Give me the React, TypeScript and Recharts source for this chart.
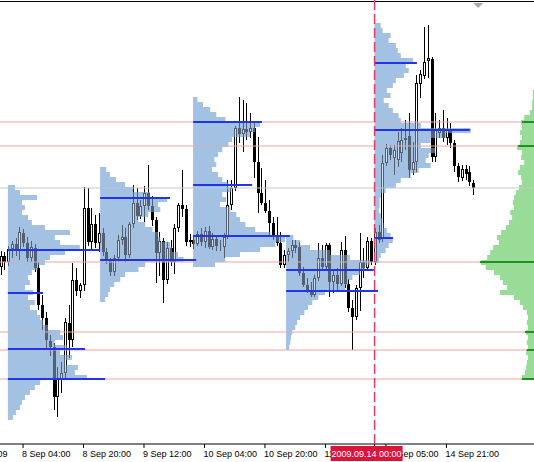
import {
  Bar,
  ComposedChart,
  ReferenceArea,
  ReferenceDot,
  ReferenceLine,
  XAxis,
  YAxis,
} from "recharts";

// Hourly EURUSD-style candles, one per bar index (0 = first visible bar).
const candleOpen = [
  1.4383, 1.4394, 1.4388, 1.4401, 1.4406, 1.4399, 1.4417, 1.4407, 1.4392, 1.4402,
  1.4382, 1.4345, 1.4332, 1.4309, 1.4303, 1.4253, 1.4271, 1.4277, 1.4327, 1.431,
  1.437, 1.4359, 1.4365, 1.4442, 1.4408, 1.4426, 1.4407, 1.4417, 1.4398, 1.4389,
  1.4378, 1.4392, 1.441, 1.4413, 1.4395, 1.4426, 1.4447, 1.4434, 1.4444, 1.4457,
  1.4444, 1.443, 1.4397, 1.4409, 1.437, 1.4402, 1.4388, 1.4422, 1.4445, 1.4441,
  1.4408, 1.441, 1.4406, 1.4416, 1.4408, 1.4419, 1.4403, 1.4411, 1.4404, 1.4403,
  1.4413, 1.4445, 1.4462, 1.4522, 1.4516, 1.4521, 1.4518, 1.4522, 1.4488, 1.4457,
  1.4447, 1.4439, 1.4427, 1.4413, 1.4407, 1.4385, 1.4395, 1.4399, 1.4405, 1.4403,
  1.4377, 1.4365, 1.4359, 1.4355, 1.4372, 1.4392, 1.4383, 1.4405, 1.4368, 1.4375,
  1.4366, 1.44, 1.4366, 1.4342, 1.4333, 1.4362, 1.4388, 1.4382, 1.4409, 1.4388,
  1.4418, 1.4411, 1.4487, 1.4502, 1.4492, 1.449, 1.4497, 1.451, 1.4514, 1.448,
  1.4488, 1.4566, 1.4574, 1.4589, 1.4591, 1.4493, 1.4517, 1.4522, 1.4512, 1.452,
  1.4507, 1.4484, 1.4472, 1.4481, 1.4478, 1.4467,
];
const candleHigh = [
  1.4399, 1.4398, 1.4404, 1.4409, 1.4412, 1.4423, 1.4421, 1.4413, 1.4409, 1.4406,
  1.4388, 1.4355, 1.4338, 1.4315, 1.4307, 1.4283, 1.4288, 1.4332, 1.4345, 1.4387,
  1.4382, 1.4367, 1.4463, 1.4462, 1.4442, 1.4435, 1.4437, 1.4422, 1.4402, 1.4392,
  1.4395, 1.4415, 1.4425, 1.4422, 1.4428, 1.4465, 1.4462, 1.445, 1.4464, 1.4485,
  1.4454, 1.4433, 1.4418, 1.4412, 1.4408, 1.441, 1.4426, 1.4447, 1.448, 1.4445,
  1.4416, 1.4414, 1.4419, 1.4422, 1.4423, 1.4424, 1.4417, 1.4414, 1.441, 1.4417,
  1.447, 1.447, 1.4524, 1.4553, 1.455, 1.4547, 1.4537, 1.4527, 1.4513, 1.4482,
  1.447, 1.445, 1.4433, 1.4433, 1.4418, 1.44, 1.4402, 1.441, 1.441, 1.4408,
  1.4383, 1.4372, 1.4368, 1.4375, 1.4407, 1.4405, 1.4407, 1.4407, 1.438, 1.4382,
  1.4408, 1.4414, 1.4371, 1.435, 1.4365, 1.4417, 1.4402, 1.4413, 1.4412, 1.4422,
  1.4425, 1.4495, 1.4506, 1.4505, 1.4505, 1.4518, 1.4522, 1.453, 1.4537, 1.4508,
  1.4575, 1.458, 1.4623, 1.4625, 1.4593, 1.4537, 1.453, 1.454, 1.4532, 1.4527,
  1.451, 1.4487, 1.4485, 1.4485, 1.4484, 1.447,
];
const candleLow = [
  1.4375, 1.438, 1.4384, 1.4392, 1.4394, 1.439, 1.4403, 1.4388, 1.4388, 1.4378,
  1.434, 1.432, 1.4302, 1.4294, 1.424, 1.4233, 1.4257, 1.427, 1.4292, 1.4303,
  1.4354, 1.4352, 1.4359, 1.4404, 1.44, 1.4402, 1.4398, 1.4394, 1.4386, 1.4374,
  1.4374, 1.4388, 1.4405, 1.4388, 1.4392, 1.4422, 1.443, 1.4431, 1.4428, 1.444,
  1.4424, 1.4367, 1.4374, 1.4347, 1.4366, 1.4384, 1.4376, 1.4418, 1.4433, 1.4404,
  1.4403, 1.4401, 1.4404, 1.4404, 1.4402, 1.4401, 1.44, 1.4399, 1.4399, 1.4392,
  1.4411, 1.444, 1.4459, 1.4507, 1.4498, 1.451, 1.4512, 1.4472, 1.4437, 1.4445,
  1.4437, 1.4413, 1.441, 1.4404, 1.4382, 1.4382, 1.4388, 1.4392, 1.4397, 1.4374,
  1.4363, 1.4357, 1.4353, 1.4353, 1.4369, 1.4379, 1.438, 1.4353, 1.4357, 1.4358,
  1.4364, 1.4362, 1.4338, 1.43, 1.433, 1.4339, 1.4372, 1.4379, 1.4385, 1.4385,
  1.4407, 1.4408, 1.4484, 1.449, 1.4475, 1.4483, 1.4488, 1.45, 1.4472, 1.4475,
  1.4478, 1.4552, 1.4571, 1.4572, 1.4488, 1.4488, 1.4512, 1.4508, 1.4505, 1.4502,
  1.4478, 1.4468, 1.4469, 1.447, 1.4464, 1.4455,
];
const candleClose = [
  1.4394, 1.4388, 1.4401, 1.4406, 1.4399, 1.4418, 1.4407, 1.4392, 1.4403, 1.4382,
  1.4345, 1.4332, 1.431, 1.4303, 1.4253, 1.4272, 1.4277, 1.4328, 1.431, 1.437,
  1.4359, 1.4365, 1.4442, 1.4408, 1.4426, 1.4407, 1.4417, 1.4398, 1.4389, 1.4378,
  1.4392, 1.441, 1.4413, 1.4395, 1.4426, 1.4447, 1.4434, 1.4444, 1.4457, 1.4444,
  1.443, 1.4397, 1.4409, 1.437, 1.4402, 1.4388, 1.4422, 1.4445, 1.4441, 1.4408,
  1.441, 1.4406, 1.4416, 1.4408, 1.4419, 1.4403, 1.4411, 1.4404, 1.4403, 1.4413,
  1.4445, 1.4462, 1.4522, 1.4516, 1.4521, 1.4518, 1.4522, 1.4488, 1.4457, 1.4447,
  1.4439, 1.4427, 1.4413, 1.4407, 1.4385, 1.4395, 1.4399, 1.4405, 1.4402, 1.4377,
  1.4365, 1.4359, 1.4355, 1.4372, 1.4392, 1.4383, 1.4405, 1.4368, 1.4375, 1.4366,
  1.44, 1.4366, 1.4342, 1.4333, 1.4362, 1.4388, 1.4382, 1.4409, 1.4388, 1.4418,
  1.441, 1.4487, 1.4502, 1.4495, 1.45, 1.4509, 1.451, 1.4512, 1.448, 1.4488,
  1.4567, 1.4576, 1.4588, 1.4592, 1.4493, 1.452, 1.4522, 1.4512, 1.452, 1.4507,
  1.4484, 1.4473, 1.4481, 1.4476, 1.4468, 1.4462,
];

// Daily market profiles (row height 5 pips, lengths in bars, from session start)
const PROFILE_ROW = 0.0005;
const profileStart = [1.7, 26.1, 50.7, 75.3, 98.7];
const profileTop = [1.4465, 1.4483, 1.4553, 1.4415, 1.4627];
const profile1 = [
  1.9, 3.2, 7.7, 3.7, 4.5, 3.7, 5.3, 6.3, 9.8, 16.4, 12.4, 13.8, 19, 15.1, 11.1, 9.8,
  7.9, 6.3, 5.3, 5.8, 4.5, 6.6, 5.3, 7.1, 5.8, 7.7, 8.5, 9.3, 10.6, 13.8, 14.6, 12.4,
  15.6, 13.8, 16.9, 15.1, 18.5, 17.7, 20.9, 8.5, 7.1, 5.8, 4.5, 3.7, 3.2, 2.1, 1.3,
];
const profile2 = [
  1.6, 2.6, 4.2, 6.6, 8.7, 13.2, 17.7, 15.3, 15.9, 12.7, 10.1, 11.9, 13.8, 15.3, 15.9,
  18.5, 19, 20.6, 22, 11.9, 10.1, 6.6, 5.3, 3.7, 2.6, 2.1, 1.3,
];
const profile3 = [
  1.1, 2.6, 4.5, 6.1, 8.5, 17.7, 16.4, 15.1, 10.3, 9.3, 7.7, 6.6, 5.6, 6.1, 5, 6.6,
  7.7, 9.3, 10.3, 7.7, 8.7, 7.1, 9.8, 11.4, 12.4, 13.8, 16.4, 20.4, 24.3, 21.7, 17.7,
  12.4, 8.5, 5.8,
];
const profile4 = [
  1.9, 3.7, 6.3, 11.6, 16.9, 22.2, 20.9, 19.6, 17.5, 16.4, 15.6, 10.3, 8.5, 6.9, 5.8,
  4.8, 3.7, 2.9, 2.4, 1.6, 1.3, 1.1, 0.8,
];
const profile5 = [
  1.6, 2.1, 4.2, 3.7, 5.6, 6.1, 6.9, 10.1, 8.2, 9, 7.7, 5.6, 4.8, 3.2, 4.2, 2.4, 3.7,
  4.8, 6.3, 6.9, 12.2, 25.4, 18.8, 14.8, 12.2, 16.1, 14.3, 13.5, 14.8, 11.6, 9.5, 6.9,
  5.6, 2.9, 1.6, 1.3, 1.3, 1.1, 1.6, 2.1, 2.4, 3.2, 4.2, 4.8, 3.7, 2.9, 1.6, 1.1,
];
const profileRows = [profile1, profile2, profile3, profile4, profile5];
const pocPrice = [
  [1.44, 1.4357, 1.4301, 1.4271],
  [1.4452, 1.439],
  [1.4528, 1.4465, 1.4414],
  [1.438, 1.4359],
  [1.4587, 1.452, 1.4412],
];
const pocSpan = [
  [24.4, 9.3, 20.4, 25.7],
  [18.5, 25.4],
  [18.2, 15.6, 25.6],
  [23.2, 24.3],
  [11.2, 25.2, 4.9],
];

// Whole-period profile, anchored on the right edge
const totalTop = 1.456;
const totalRows = [
  0.3, 0.3, 0.5, 0.5, 1.1, 2.6, 3.4, 3.2, 3.7, 3.2, 3.7, 4.5, 3.2, 3.4, 2.6, 3.7, 4.2,
  3.4, 3.2, 4, 4.8, 5.3, 5.6, 5.3, 6.3, 5.8, 6.6, 7.4, 8.7, 9.8, 9.3, 10.8, 11.6, 12.4,
  14, 12.7, 10.6, 9, 8.2, 7.1, 9, 5.3, 3.7, 2.9, 1.9, 1.6, 1.9, 1.6, 2.1, 1.6, 1.9, 1.6,
  2.1, 1.6, 1.9, 2.1, 2.4, 3.2,
];
const levelPrice = [1.4528, 1.4504, 1.4388, 1.4318, 1.43, 1.4271];
const levelSpan = [3.2, 4.2, 14.3, 2.4, 1.9, 3.2];
const bidPrice = 1.4462;

// time axis
const tickPos = [-10.3, 5.7, 21.7, 37.7, 53.7, 69.7, 85.7, 101.7, 117.7];
const tickText = [
  "7 Sep 2009",
  "8 Sep 04:00",
  "8 Sep 20:00",
  "9 Sep 12:00",
  "10 Sep 04:00",
  "10 Sep 20:00",
  "11 Sep 12:00",
  "14 Sep 05:00",
  "14 Sep 21:00",
];
const markerX = 98.7;
const markerText = "2009.09.14 00:00";

const X_MIN = -13.62;
const X_MAX = 140.87;
const Y_MIN = 1.4206;
const Y_MAX = 1.465;
const FONT = "Liberation Sans, Arial, sans-serif";
const PROFILE_BLUE = "#A3C1E3";

const candles = candleOpen.map((o, i) => ({
  i,
  o,
  h: candleHigh[i],
  l: candleLow[i],
  c: candleClose[i],
  range: [candleLow[i], candleHigh[i]],
}));

function Candle(props: any) {
  const { x, y, width, height, payload } = props;
  if (x == null || payload == null) return <g />;
  const { o, h, l, c } = payload;
  const top = Math.min(y, y + height);
  const full = Math.abs(height);
  const span = h - l || 1;
  const py = (v: number) => top + ((h - v) / span) * full;
  const cx = Math.floor(x + width / 2) + 0.5;
  const b0 = Math.round(py(Math.max(o, c))) + 0.5;
  const b1 = Math.max(Math.round(py(Math.min(o, c))) - 0.5, b0);
  const bull = c > o;
  return (
    <g shapeRendering="crispEdges">
      <line x1={cx} x2={cx} y1={Math.round(top)} y2={Math.round(top + full)} stroke="#000" />
      <rect
        x={cx - 1}
        y={b0}
        width={2}
        height={Math.max(b1 - b0, 0)}
        fill={bull ? "#fff" : "#000"}
        stroke="#000"
        strokeWidth={1}
      />
    </g>
  );
}

function TimeTick(props: any) {
  const { x, y, payload } = props;
  if (payload.value === markerX) {
    return (
      <g>
        <rect x={x - 44} y={y - 4} width={72} height={15} fill="#DC143C" />
        <text
          x={x - 8}
          y={y}
          dy="0.75em"
          textAnchor="middle"
          fill="#fff"
          fontSize={9}
          fontFamily={FONT}
        >
          {markerText}
        </text>
      </g>
    );
  }
  const k = tickPos.indexOf(payload.value);
  return (
    <text x={x - 1} y={y} dy="0.75em" textAnchor="start" fill="#000" fontSize={9} fontFamily={FONT}>
      {tickText[k]}
    </text>
  );
}

export default function App() {
  const blueRows = profileRows.flatMap((rows, p) =>
    rows.map((len, r) => ({
      key: `p${p}-${r}`,
      x1: profileStart[p],
      x2: profileStart[p] + len,
      y1: profileTop[p] - r * PROFILE_ROW,
      y2: profileTop[p] - (r + 1) * PROFILE_ROW,
    })),
  );
  const greenRows = totalRows.map((len, r) => ({
    key: `t${r}`,
    x1: X_MAX - len,
    x2: X_MAX,
    y1: totalTop - r * PROFILE_ROW,
    y2: totalTop - (r + 1) * PROFILE_ROW,
  }));

  return (
    <div style={{ position: "absolute", left: -50, top: 0, width: 584, height: 462, background: "#fff" }}>
      <ComposedChart width={584} height={462} data={candles} margin={{ top: 0, right: 0, bottom: 0, left: 0 }}>
        <XAxis
          type="number"
          dataKey="i"
          domain={[X_MIN, X_MAX]}
          allowDataOverflow
          ticks={[...tickPos, markerX]}
          interval={0}
          tick={<TimeTick />}
          tickSize={4}
          tickLine={{ stroke: "#000" }}
          axisLine={{ stroke: "#000" }}
          height={18}
        />
        <YAxis type="number" domain={[Y_MIN, Y_MAX]} allowDataOverflow hide />

        {blueRows.map((r) => (
          <ReferenceArea key={r.key} x1={r.x1} x2={r.x2} y1={r.y1} y2={r.y2} fill={PROFILE_BLUE} fillOpacity={1} stroke="none" />
        ))}
        {greenRows.map((r) => (
          <ReferenceArea key={r.key} x1={r.x1} x2={r.x2} y1={r.y1} y2={r.y2} fill="#98DC98" fillOpacity={1} stroke="none" />
        ))}

        {levelPrice.map((p) => (
          <ReferenceLine key={`lv${p}`} y={p} stroke="#EBA3A3" strokeWidth={1} />
        ))}
        <ReferenceLine y={bidPrice} stroke="#C8C8C8" strokeWidth={1} />
        <ReferenceLine y={1.46485} stroke="#000" strokeWidth={1} />

        <Bar dataKey="range" barSize={3} shape={<Candle />} isAnimationActive={false} />

        {/* the profiles tint the candles they cover */}
        {blueRows.map((r) => (
          <ReferenceArea
            key={`o${r.key}`}
            x1={r.x1}
            x2={r.x2}
            y1={r.y1}
            y2={r.y2}
            fill={PROFILE_BLUE}
            fillOpacity={0.5}
            stroke="none"
            zIndex={650}
          />
        ))}

        {pocPrice.flatMap((prices, p) =>
          prices.map((price, j) => (
            <ReferenceLine
              key={`poc${p}-${j}`}
              segment={[
                { x: profileStart[p], y: price },
                { x: profileStart[p] + pocSpan[p][j], y: price },
              ]}
              stroke="#2233EE"
              strokeWidth={2}
              zIndex={700}
            />
          )),
        )}
        {levelPrice.map((price, j) => (
          <ReferenceLine
            key={`tl${j}`}
            segment={[
              { x: X_MAX - levelSpan[j], y: price },
              { x: X_MAX, y: price },
            ]}
            stroke="#1F8F1F"
            strokeWidth={2}
            zIndex={700}
          />
        ))}

        <ReferenceLine x={markerX} stroke="#E33A62" strokeWidth={1.5} strokeDasharray="10 4" zIndex={700} />
        <ReferenceDot
          x={126.1}
          y={1.4645}
          zIndex={700}
          shape={(p: any) => (
            <polygon
              points={`${p.cx - 5},${p.cy - 2} ${p.cx + 5},${p.cy - 2} ${p.cx},${p.cy + 3}`}
              fill="#A8A8A8"
            />
          )}
        />
      </ComposedChart>
    </div>
  );
}
